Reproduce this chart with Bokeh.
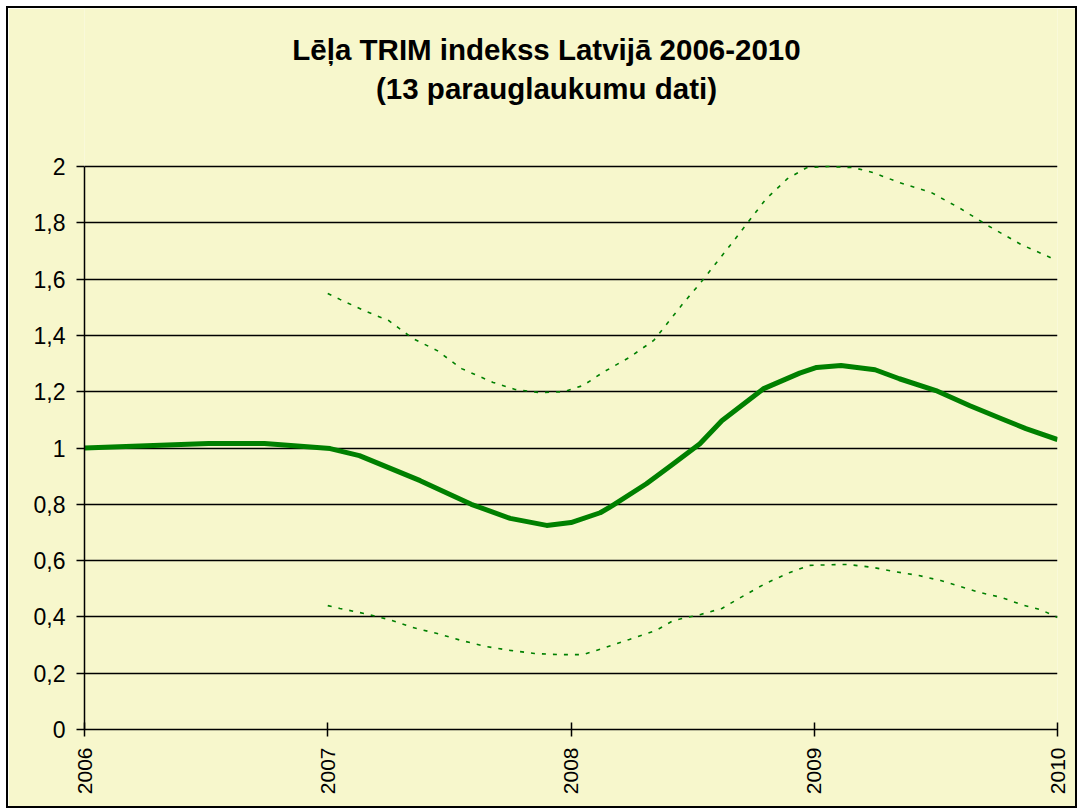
import math
from bokeh.plotting import figure
from bokeh.models import Range1d, FixedTicker, CustomJSTickFormatter, Label
from bokeh.embed import file_html
from bokeh.resources import INLINE

# ---- data ----
title_line1 = "Lēļa TRIM indekss Latvijā 2006-2010"
title_line2 = "(13 parauglaukumu dati)"

x_ticks = [2006, 2007, 2008, 2009, 2010]
x_tick_labels = ["2006", "2007", "2008", "2009", "2010"]
y_ticks = [0, 0.2, 0.4, 0.6, 0.8, 1.0, 1.2, 1.4, 1.6, 1.8, 2.0]
y_tick_labels = ["0", "0,2", "0,4", "0,6", "0,8", "1", "1,2", "1,4", "1,6", "1,8", "2"]

index_x = [2006.0, 2006.51, 2006.74, 2007.01, 2007.13, 2007.38, 2007.59, 2007.75,
           2007.90, 2008.0, 2008.12, 2008.17, 2008.31, 2008.41, 2008.53, 2008.62,
           2008.79, 2008.94, 2009.01, 2009.11, 2009.25, 2009.35, 2009.50, 2009.64,
           2009.77, 2009.87, 2010.0]
index_y = [1.00, 1.016, 1.016, 0.998, 0.973, 0.884, 0.80, 0.75,
           0.725, 0.735, 0.77, 0.795, 0.873, 0.937, 1.015, 1.097,
           1.21, 1.266, 1.286, 1.293, 1.278, 1.246, 1.204, 1.15,
           1.104, 1.069, 1.03]

upper_x = [2007.0, 2007.05, 2007.15, 2007.25, 2007.35, 2007.45, 2007.55, 2007.68,
           2007.77, 2007.87, 2007.97, 2008.05, 2008.13, 2008.24, 2008.34, 2008.46,
           2008.53, 2008.67, 2008.80, 2008.89, 2008.97, 2009.06, 2009.16, 2009.24,
           2009.35, 2009.48, 2009.60, 2009.72, 2009.85, 2009.97, 2010.0]
upper_y = [1.549, 1.528, 1.488, 1.453, 1.389, 1.346, 1.282, 1.233,
           1.208, 1.197, 1.20, 1.222, 1.268, 1.322, 1.382, 1.513,
           1.584, 1.737, 1.883, 1.957, 1.996, 2.0, 1.996, 1.979,
           1.943, 1.908, 1.851, 1.787, 1.723, 1.677, 1.673]

lower_x = [2007.0, 2007.05, 2007.15, 2007.25, 2007.35, 2007.45, 2007.55, 2007.65,
           2007.75, 2007.85, 2007.95, 2008.05, 2008.14, 2008.24, 2008.35, 2008.42,
           2008.53, 2008.62, 2008.72, 2008.80, 2008.90, 2008.98, 2009.10, 2009.14,
           2009.24, 2009.33, 2009.43, 2009.52, 2009.60, 2009.68, 2009.77, 2009.85,
           2009.93, 2010.0]
lower_y = [0.44, 0.43, 0.412, 0.391, 0.362, 0.341, 0.316, 0.295,
           0.281, 0.27, 0.266, 0.266, 0.291, 0.32, 0.352, 0.387,
           0.408, 0.43, 0.48, 0.519, 0.558, 0.583, 0.586, 0.586,
           0.576, 0.561, 0.547, 0.529, 0.508, 0.487, 0.469, 0.444,
           0.426, 0.398]

# ---- figure ----
BG = "#F7F7CC"
GREEN = "#008000"
FONT = "Liberation Sans"

W, H = 1071, 802
B_LEFT, B_RIGHT, B_TOP, B_BOTTOM = 76, 22, 0, 81
# the frame extends up to the top of the canvas so the title can sit inside it;
# axis and grid stop at 2 (the value scale: 2 -> 158px below the top)
Y_TOP = 2 + 158 / 281.5

p = figure(width=W, height=H, output_backend="svg", toolbar_location=None,
           x_range=Range1d(2006, 2010), y_range=Range1d(0, Y_TOP),
           min_border_left=B_LEFT, min_border_right=B_RIGHT,
           min_border_top=B_TOP, min_border_bottom=B_BOTTOM)
p.background_fill_color = BG
p.border_fill_color = BG
p.outline_line_color = None
p.styles = {"border": "2px solid black", "margin": "6px 0 0 6px"}

# grid
p.xgrid.grid_line_color = None
p.ygrid.grid_line_color = "black"
p.ygrid.grid_line_width = 1.5
p.ygrid.ticker = FixedTicker(ticks=y_ticks)

# x axis
p.xaxis.ticker = FixedTicker(ticks=x_ticks)
p.xaxis.major_label_overrides = dict(zip(x_ticks, x_tick_labels))
p.xaxis.major_label_orientation = math.pi / 2
p.xaxis.axis_line_color = "black"
p.xaxis.axis_line_width = 1.5
p.xaxis.major_tick_line_color = "black"
p.xaxis.major_tick_line_width = 1.5
p.xaxis.major_tick_in = 7
p.xaxis.major_tick_out = 7
p.xaxis.minor_tick_line_color = None
p.xaxis.major_label_text_font = FONT
p.xaxis.major_label_text_font_size = "21px"
p.xaxis.major_label_text_color = "black"
p.xaxis.major_label_standoff = 11

# y axis
p.yaxis.ticker = FixedTicker(ticks=y_ticks)
p.yaxis.bounds = (y_ticks[0], y_ticks[-1])
p.yaxis.formatter = CustomJSTickFormatter(
    args=dict(tvals=y_ticks, tlabels=y_tick_labels),
    code="""
    for (let i = 0; i < tvals.length; i++) {
        if (Math.abs(tvals[i] - tick) < 1e-9) return tlabels[i];
    }
    return String(tick);
    """)
p.yaxis.axis_line_color = "black"
p.yaxis.axis_line_width = 1.5
p.yaxis.major_tick_line_color = "black"
p.yaxis.major_tick_line_width = 1.5
p.yaxis.major_tick_in = 0
p.yaxis.major_tick_out = 8
p.yaxis.minor_tick_line_color = None
p.yaxis.major_label_text_font = FONT
p.yaxis.major_label_text_font_size = "23px"
p.yaxis.major_label_text_color = "black"
p.yaxis.major_label_standoff = 11

# series
p.line(upper_x, upper_y, line_color=GREEN, line_width=1.6, line_dash="4 7")
p.line(lower_x, lower_y, line_color=GREEN, line_width=1.6, line_dash="4 7")
p.line(index_x, index_y, line_color=GREEN, line_width=5, line_join="round")

# title: two centred bold lines near the top of the frame
frame_h = H - B_TOP - B_BOTTOM
p.add_layout(Label(x=462, y=frame_h - 41, x_units="screen", y_units="screen",
                   text=title_line1, text_align="center", text_baseline="middle",
                   text_font=FONT, text_font_style="bold", text_font_size="29.5px",
                   text_color="black"))
p.add_layout(Label(x=462, y=frame_h - 80, x_units="screen", y_units="screen",
                   text=title_line2, text_align="center", text_baseline="middle",
                   text_font=FONT, text_font_style="bold", text_font_size="29.5px",
                   text_color="black"))

open("out.html", "w").write(file_html(p, INLINE))
